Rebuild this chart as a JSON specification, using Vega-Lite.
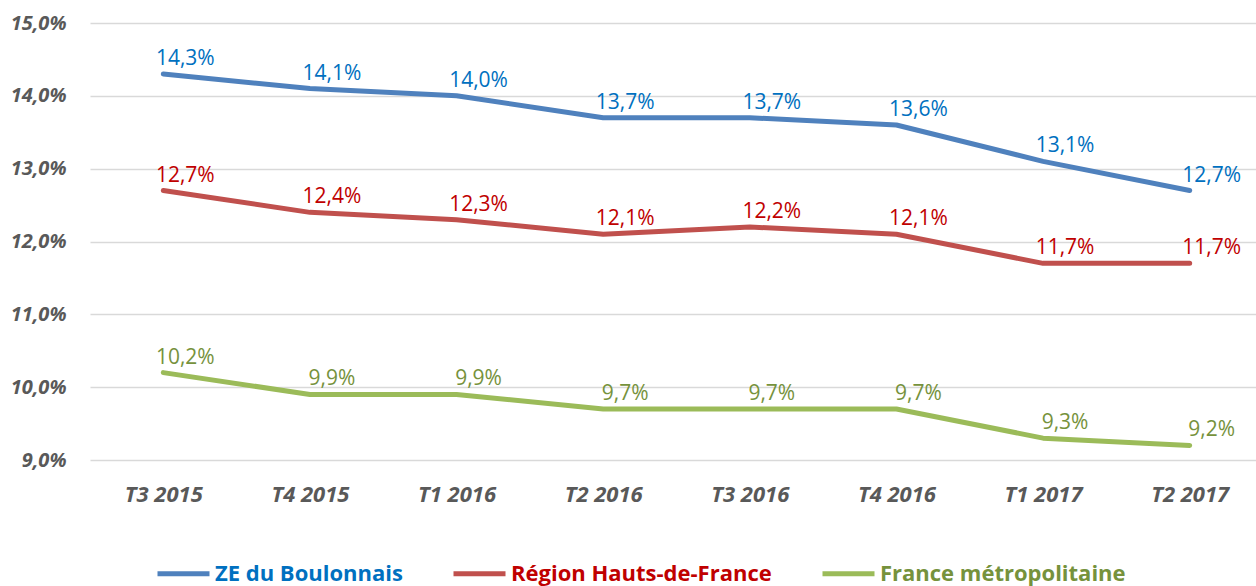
{
  "$schema": "https://vega.github.io/schema/vega-lite/v6.json",
  "autosize": {"type": "none"},
  "padding": {"left": 90, "top": 23, "right": 0, "bottom": 126},
  "width": 1173,
  "height": 437,
  "background": "white",
  "config": {
    "locale": {"number": {"decimal": ",", "thousands": " ", "grouping": [3], "currency": ["", " €"]}},
    "view": {"stroke": null},
    "font": "Open Sans"
  },
  "data": {
    "values": [
      {"trimestre": "T3 2015", "zone": "ZE du Boulonnais", "taux": 0.143},
      {"trimestre": "T4 2015", "zone": "ZE du Boulonnais", "taux": 0.141},
      {"trimestre": "T1 2016", "zone": "ZE du Boulonnais", "taux": 0.140},
      {"trimestre": "T2 2016", "zone": "ZE du Boulonnais", "taux": 0.137},
      {"trimestre": "T3 2016", "zone": "ZE du Boulonnais", "taux": 0.137},
      {"trimestre": "T4 2016", "zone": "ZE du Boulonnais", "taux": 0.136},
      {"trimestre": "T1 2017", "zone": "ZE du Boulonnais", "taux": 0.131},
      {"trimestre": "T2 2017", "zone": "ZE du Boulonnais", "taux": 0.127},
      {"trimestre": "T3 2015", "zone": "Région Hauts-de-France", "taux": 0.127},
      {"trimestre": "T4 2015", "zone": "Région Hauts-de-France", "taux": 0.124},
      {"trimestre": "T1 2016", "zone": "Région Hauts-de-France", "taux": 0.123},
      {"trimestre": "T2 2016", "zone": "Région Hauts-de-France", "taux": 0.121},
      {"trimestre": "T3 2016", "zone": "Région Hauts-de-France", "taux": 0.122},
      {"trimestre": "T4 2016", "zone": "Région Hauts-de-France", "taux": 0.121},
      {"trimestre": "T1 2017", "zone": "Région Hauts-de-France", "taux": 0.117},
      {"trimestre": "T2 2017", "zone": "Région Hauts-de-France", "taux": 0.117},
      {"trimestre": "T3 2015", "zone": "France métropolitaine", "taux": 0.102},
      {"trimestre": "T4 2015", "zone": "France métropolitaine", "taux": 0.099},
      {"trimestre": "T1 2016", "zone": "France métropolitaine", "taux": 0.099},
      {"trimestre": "T2 2016", "zone": "France métropolitaine", "taux": 0.097},
      {"trimestre": "T3 2016", "zone": "France métropolitaine", "taux": 0.097},
      {"trimestre": "T4 2016", "zone": "France métropolitaine", "taux": 0.097},
      {"trimestre": "T1 2017", "zone": "France métropolitaine", "taux": 0.093},
      {"trimestre": "T2 2017", "zone": "France métropolitaine", "taux": 0.092}
    ]
  },
  "encoding": {
    "x": {
      "field": "trimestre",
      "type": "ordinal",
      "sort": null,
      "scale": {"type": "point", "padding": 0.5},
      "axis": {
        "title": null,
        "labelAngle": 0,
        "ticks": false,
        "domain": false,
        "labelFont": "Open Sans",
        "labelFontSize": 22,
        "labelFontWeight": "bold",
        "labelFontStyle": "italic",
        "labelColor": "#595959",
        "labelPadding": 24,
        "labelBaseline": "top"
      }
    },
    "y": {
      "field": "taux",
      "type": "quantitative",
      "scale": {"domain": [0.09, 0.15], "nice": false, "zero": false},
      "axis": {
        "title": null,
        "format": ".1%",
        "values": [0.09, 0.10, 0.11, 0.12, 0.13, 0.14, 0.15],
        "ticks": false,
        "domain": false,
        "grid": true,
        "gridColor": "#D9D9D9",
        "gridWidth": 1.5,
        "labelFont": "Open Sans",
        "labelFontSize": 20,
        "labelFontWeight": "bold",
        "labelFontStyle": "italic",
        "labelColor": "#595959",
        "labelPadding": 24
      }
    }
  },
  "layer": [
    {
      "mark": {"type": "line", "strokeWidth": 5, "strokeCap": "round", "strokeJoin": "round"},
      "encoding": {
        "color": {
          "field": "zone",
          "type": "nominal",
          "scale": {
            "domain": ["ZE du Boulonnais", "Région Hauts-de-France", "France métropolitaine"],
            "range": ["#4F81BD", "#C0504D", "#9BBB59"]
          },
          "legend": {
            "title": null,
            "orient": "none",
            "direction": "horizontal",
            "legendX": 65,
            "legendY": 522,
            "symbolType": "stroke",
            "symbolSize": 2704,
            "symbolStrokeWidth": 5,
            "labelFont": "Open Sans",
            "labelFontSize": 22,
            "labelFontWeight": "bold",
            "labelOffset": 3,
            "columnPadding": 40,
            "labelLimit": 400,
            "encode": {
              "labels": {
                "update": {
                  "fill": {"signal": "datum.value == 'ZE du Boulonnais' ? '#0070C0' : datum.value == 'Région Hauts-de-France' ? '#C00000' : '#76923C'"}
                }
              }
            }
          }
        }
      }
    },
    {
      "mark": {"type": "text", "dx": 22, "dy": -15, "fontSize": 21, "font": "Open Sans"},
      "encoding": {
        "text": {"field": "taux", "type": "quantitative", "format": ".1%"},
        "fill": {
          "field": "zone",
          "type": "nominal",
          "scale": {
            "domain": ["ZE du Boulonnais", "Région Hauts-de-France", "France métropolitaine"],
            "range": ["#0070C0", "#C00000", "#76923C"]
          },
          "legend": null
        }
      }
    }
  ]
}
